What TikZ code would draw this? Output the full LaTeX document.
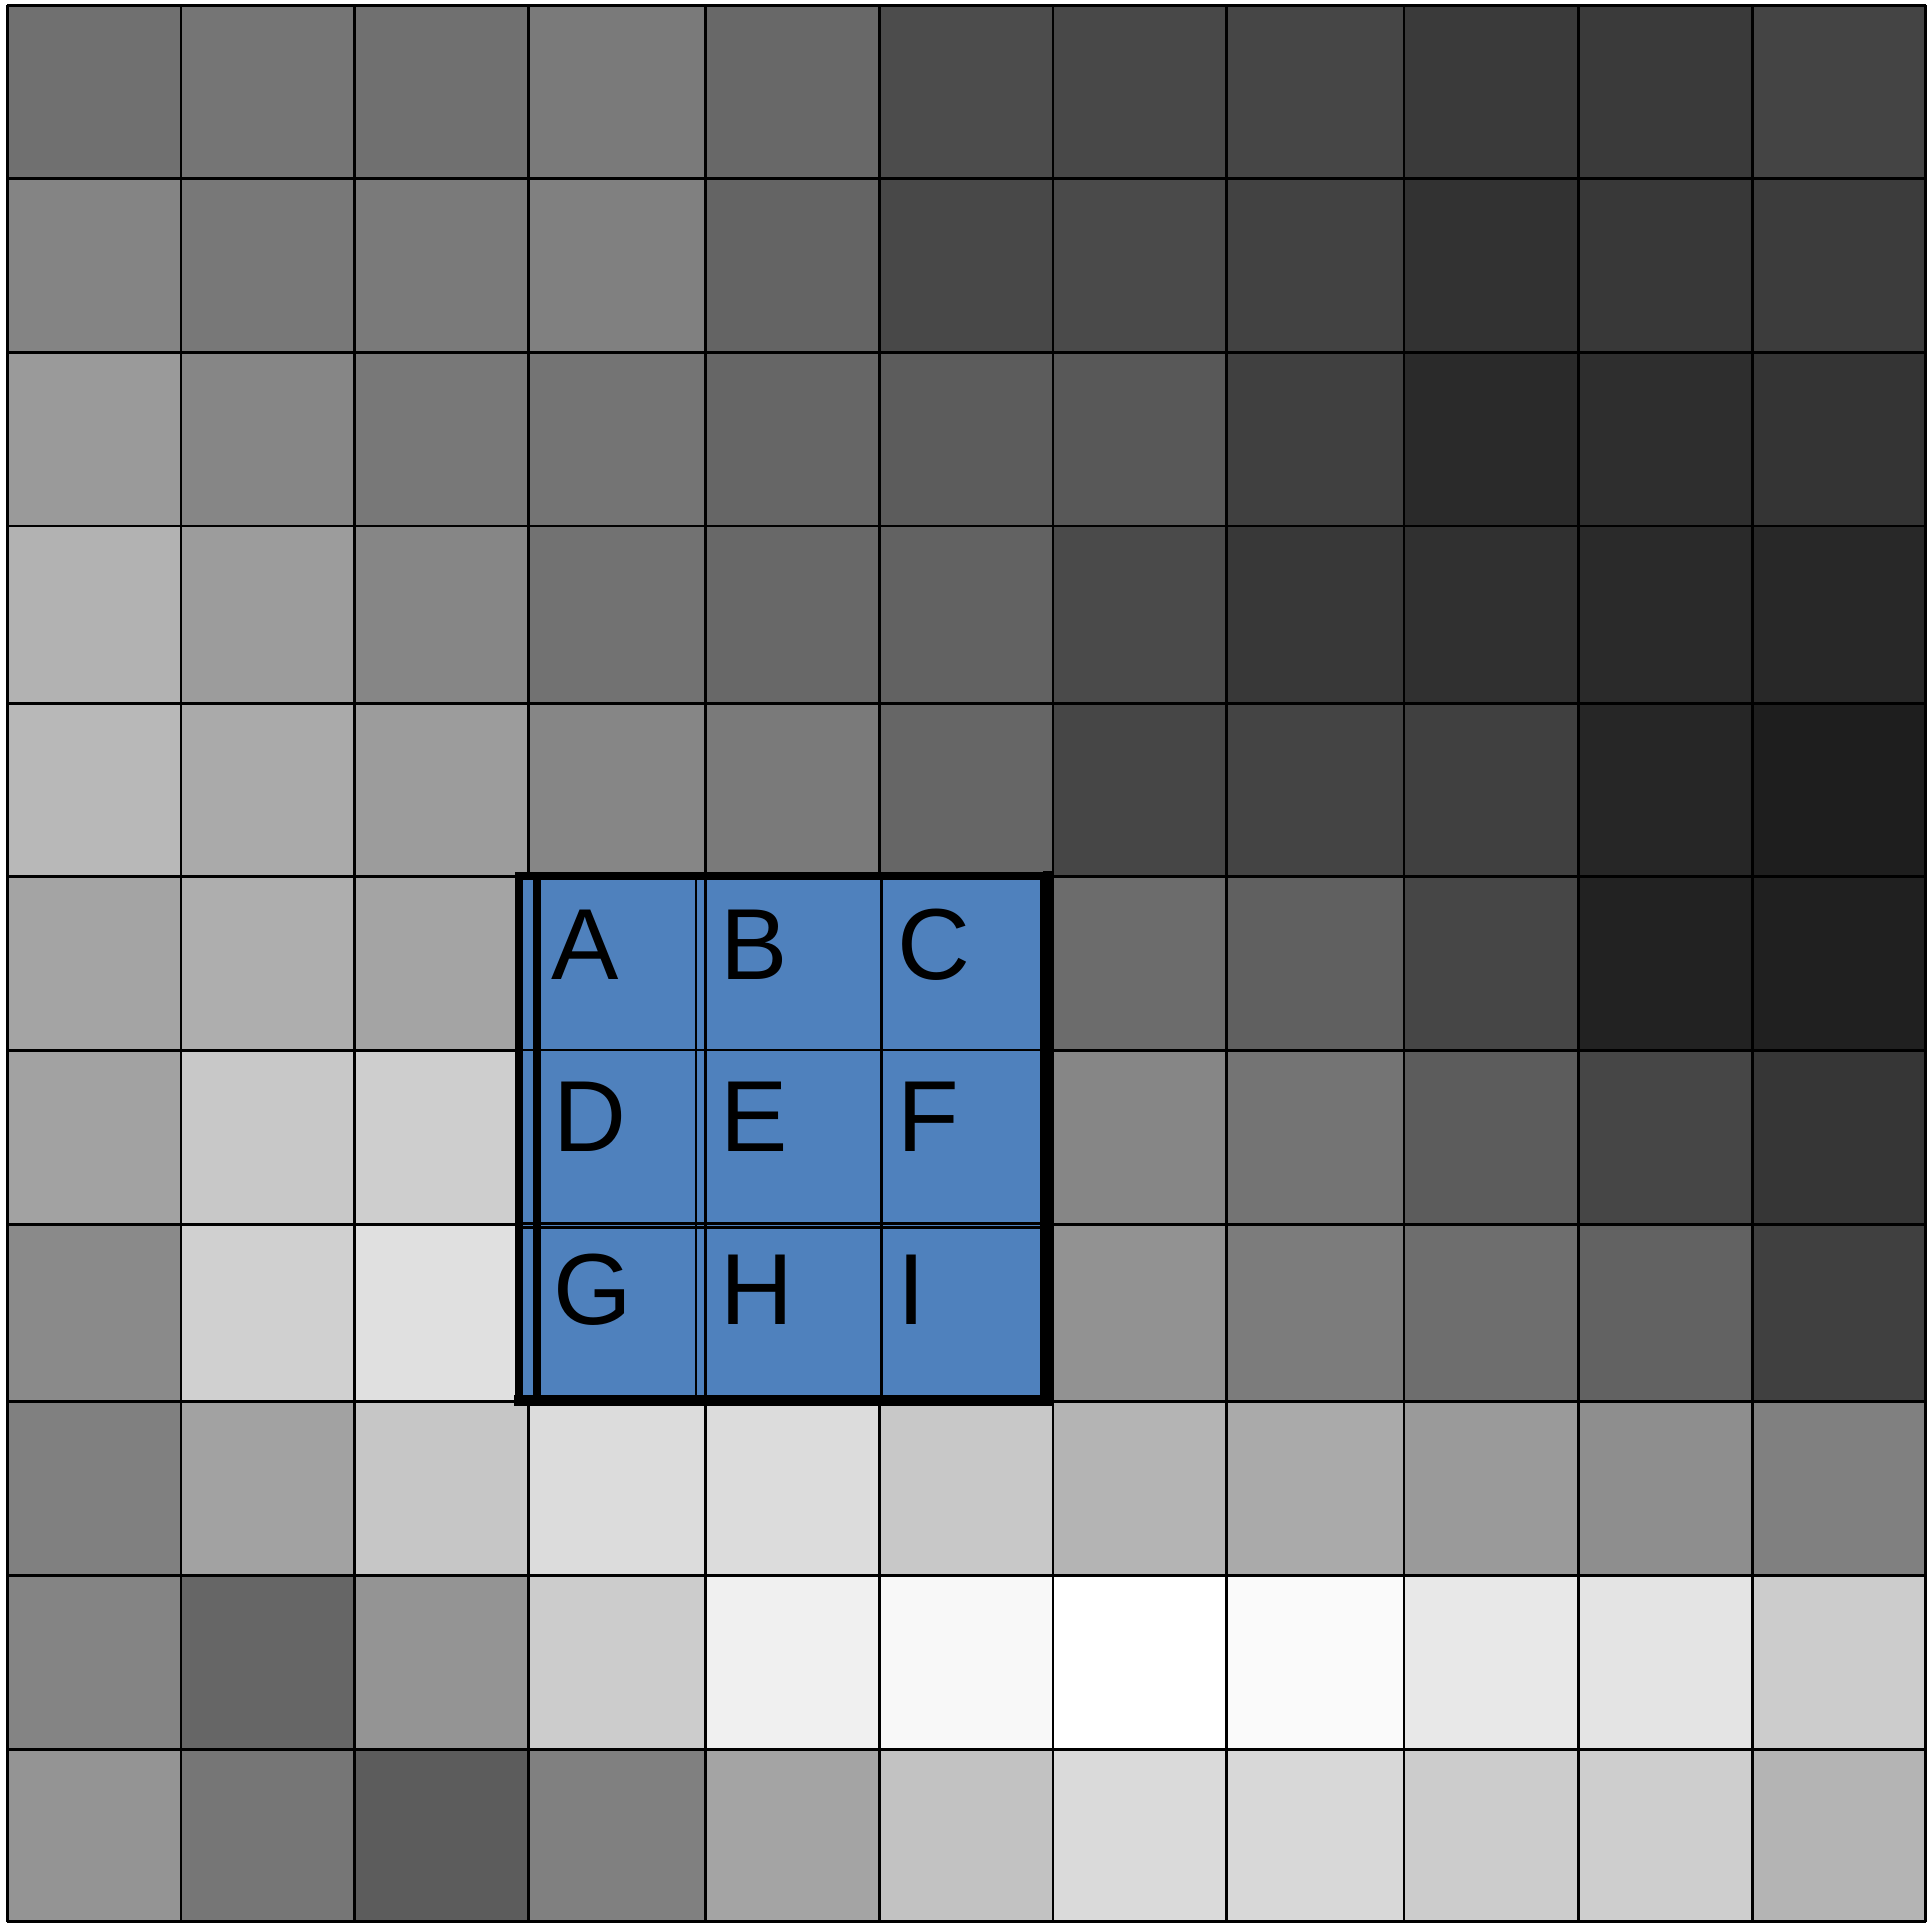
\documentclass[tikz,border=0pt]{standalone}
\usepackage{fontspec}
\setmainfont{Liberation Sans}
\definecolor{cellblue}{RGB}{79,129,189}
\tikzset{
  gridline/.style={draw=black, line width=2.8pt},
  bluethin/.style={draw=black, line width=2.6pt},
  bluethick/.style={draw=black, line width=8pt, line cap=rect},
  letter/.style={anchor=base west, inner sep=0pt, font=\fontsize{101}{120}\selectfont}
}
\begin{document}
\begin{tikzpicture}[x=1pt,y=-1pt]
\useasboundingbox (0,0) rectangle (1931,1923);
\def\XS{{7.4,181.0,354.7,528.3,705.7,879.3,1053.0,1226.6,1404.0,1578.8,1752.4,1925.5}}
\def\YS{{5.2,178.6,352.2,525.9,703.2,876.8,1050.5,1224.1,1401.4,1575.5,1749.3,1921.5}}
\foreach \r/\vals in {
 0/{112,117,112,122,104,76,72,70,58,58,68},
 1/{132,120,122,128,100,72,74,66,50,56,60},
 2/{154,134,120,116,102,92,88,64,42,46,52},
 3/{178,156,134,114,104,98,74,56,48,42,40},
 4/{184,170,156,134,122,102,70,68,64,38,30},
 5/{164,174,164,128,128,128,108,96,70,34,32},
 6/{162,200,206,128,128,128,134,116,92,70,54},
 7/{138,208,224,128,128,128,146,124,110,98,64},
 8/{128,162,198,220,220,200,180,170,154,142,128},
 9/{132,102,148,204,240,248,255,250,232,228,204},
 10/{148,118,92,128,164,194,218,216,204,206,180}} {
  \foreach \v [count=\c from 0] in \vals {
    \pgfmathsetmacro\xa{\XS[\c]}
    \pgfmathsetmacro\xb{\XS[\c+1]}
    \pgfmathsetmacro\ya{\YS[\r]}
    \pgfmathsetmacro\yb{\YS[\r+1]}
    \definecolor{cc}{RGB}{\v,\v,\v}
    \fill[cc] (\xa,\ya) rectangle (\xb,\yb);
  }
}
\foreach \i in {0,...,11} {
  \pgfmathsetmacro\xx{\XS[\i]}
  \pgfmathsetmacro\yy{\YS[\i]}
  \draw[gridline] (\xx,5.2) -- (\xx,1921.5);
  \draw[gridline] (7.4,\yy) -- (1925.5,\yy);
}
% blue 3x3 overlay
\fill[cellblue] (519,876) rectangle (1048,1400);
\foreach \x in {696,705.5,881.5,1041.5} \draw[bluethin] (\x,876) -- (\x,1400);
\foreach \y in {1049.8,1223.7,1227.4} \draw[bluethin] (519,\y) -- (1048,\y);
\draw[bluethick] (519,876) -- (1048,876);
\draw[bluethick] (519,876) -- (519,1400);
\draw[bluethick, line width=10.5pt] (1048,876) -- (1048,1400);
\draw[bluethick, line width=11pt] (519,1400) -- (1048,1400);
\draw[bluethick, line width=7.5pt, line cap=butt] (537,876) -- (537,1400);
% letters
\node[letter] (A) at (551,979.5) {A};
\node[letter] (B) at (720.5,979.5) {B};
\node[letter] (C) at (897,979.5) {C};
\node[letter] (D) at (553.5,1151.5) {D};
\node[letter] (E) at (720.5,1151.5) {E};
\node[letter] (F) at (897,1151.5) {F};
\node[letter] (G) at (553.5,1324.5) {G};
\node[letter] (H) at (720.5,1324.5) {H};
\node[letter] (I) at (897,1324.5) {I};
\end{tikzpicture}
\end{document}
